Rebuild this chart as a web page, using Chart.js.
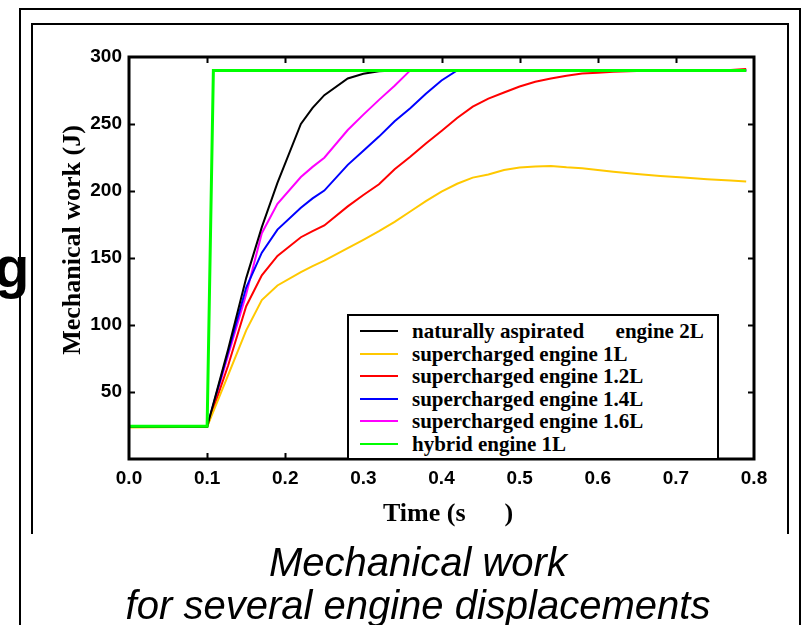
<!DOCTYPE html>
<html>
<head>
<meta charset="utf-8">
<script src="https://cdn.jsdelivr.net/npm/chart.js@4/dist/chart.umd.min.js"></script>
<style>
  body { margin: 0; width: 803px; height: 625px; overflow: hidden; position: relative; background: #fff; font-family: "Liberation Sans", Arial, sans-serif; }
  #chart { position: absolute; left: 0; top: 0; }
  .frame-outer { position: absolute; left: 19px; top: 8px; width: 778px; height: 700px; border: 2px solid #000; }
  .frame-inner { position: absolute; left: 31px; top: 23px; width: 754px; height: 509px; border: 2px solid #000; border-bottom: none; }
  .stray-g { position: absolute; left: -6px; top: 238px; font: bold 58px/58px "Liberation Sans", Arial, sans-serif; color: #000; }
  .y-title { position: absolute; left: -78px; top: 227px; width: 300px; height: 26px; text-align: center; transform: rotate(-90deg);
             font: bold 26px/26px "Liberation Serif", "Times New Roman", serif; white-space: pre; }
  .x-title { position: absolute; left: 383px; top: 500px; font: bold 26px/26px "Liberation Serif", "Times New Roman", serif; white-space: pre; }
  .caption { position: absolute; left: 0; width: 836px; text-align: center; font: italic 40px/40px "Liberation Sans", Arial, sans-serif; white-space: nowrap; }
  #legend { position: absolute; left: 347px; top: 314px; width: 368px; height: 138px; border: 2px solid #000; background: #fff; padding-top: 4px; box-sizing: content-box; }
  #legend .row { height: 22.5px; position: relative; font: bold 21px/22.5px "Liberation Serif", "Times New Roman", serif; white-space: pre; }
  #legend .swatch { position: absolute; left: 11px; top: 10px; width: 38px; height: 2px; }
  #legend .label { position: absolute; left: 63px; top: 0; }
</style>
</head>
<body>
<div class="frame-outer"></div>
<div class="frame-inner"></div>
<div class="stray-g">g</div>
<canvas id="chart" width="803" height="625"></canvas>
<div class="y-title">Mechanical work (J)</div>
<div class="x-title">Time (s      )</div>
<div class="caption" style="top:542px">Mechanical work</div>
<div class="caption" style="top:585px">for several engine displacements</div>
<div id="legend"></div>
<script>
// time (s) shared by the five engine curves
var timeGrid = [0, 0.1, 0.127, 0.15, 0.17, 0.19, 0.22, 0.235, 0.25, 0.28, 0.30, 0.32, 0.34, 0.36, 0.38, 0.40, 0.42,
  0.44, 0.46, 0.48, 0.50, 0.52, 0.54, 0.56, 0.58, 0.60, 0.62, 0.65, 0.68, 0.71, 0.74, 0.77, 0.79];

// mechanical work (J)
var naturallyAspirated2L = [24, 24, 82, 135, 173, 206, 250, 262, 271.5, 284, 287.5, 289.3, 290, 290, 290, 290, 290,
  290, 290, 290, 290, 290, 290, 290, 290, 290, 290, 290, 290, 290, 290, 290, 290];
var supercharged1L = [23.5, 24, 62.7, 96, 118.6, 129.5, 139.5, 144, 148, 157.3, 163.5, 170, 177, 184.7, 192.5, 199.6, 205.4,
  210, 212.3, 215.7, 217.5, 218.3, 218.7, 217.7, 217, 215.6, 214.3, 212.7, 211.2, 210, 208.8, 207.8, 207];
var supercharged12L = [24, 24, 70, 114, 137, 151.5, 165.5, 170, 174.3, 188.5, 197, 205, 216.3, 225.5, 235.5, 244.8, 254.5,
  263, 269, 273.5, 278, 281.5, 284, 286, 287.7, 288.3, 289, 289.6, 290, 290, 290, 290.3, 291];
var supercharged14L = [24, 24, 80, 128, 154, 171.2, 187.5, 194.5, 200.3, 219.5, 230, 240.6, 252, 261.7, 272.5, 282.5, 290,
  290, 290, 290, 290, 290, 290, 290, 290, 290, 290, 290, 290, 290, 290, 290, 290];
var supercharged16L = [24, 24, 77.6, 123, 168.5, 190.4, 210.4, 218, 224.8, 245.5, 257, 268, 278.5, 290, 290, 290, 290,
  290, 290, 290, 290, 290, 290, 290, 290, 290, 290, 290, 290, 290, 290, 290, 290];

// hybrid has its own step
var hybridTime = [0, 0.1, 0.108, 0.79];
var hybrid1L = [24.5, 24.5, 290, 290];

var seriesLabels = ["naturally aspirated      engine 2L", "supercharged engine 1L", "supercharged engine 1.2L",
  "supercharged engine 1.4L", "supercharged engine 1.6L", "hybrid engine 1L"];
var seriesColors = ["#000000", "#ffc800", "#ff0000", "#0000ff", "#ff00ff", "#00ff00"];

var xTicks = [0, 0.1, 0.2, 0.3, 0.4, 0.5, 0.6, 0.7, 0.8];
var yTicks = [50, 100, 150, 200, 250, 300];

function toPoints(xs, ys) {
  return xs.map(function (x, i) {
    return { x: x, y: ys[i] };
  });
}

var seriesData = [
  toPoints(timeGrid, naturallyAspirated2L),
  toPoints(timeGrid, supercharged1L),
  toPoints(timeGrid, supercharged12L),
  toPoints(timeGrid, supercharged14L),
  toPoints(timeGrid, supercharged16L),
  toPoints(hybridTime, hybrid1L)
];

var datasets = seriesData.map(function (d, i) {
  var isHybrid = i === 5;
  return {
    label: seriesLabels[i],
    data: d,
    borderColor: seriesColors[i],
    backgroundColor: seriesColors[i],
    borderWidth: isHybrid ? 3 : 2,
    pointRadius: 0,
    fill: false,
    tension: 0,
    order: isHybrid ? 0 : i + 1
  };
});

// box round the plot with inward tick marks on all sides
var axisBox = {
  id: "axisBox",
  afterDraw: function (chart) {
    var ctx = chart.ctx;
    var a = chart.chartArea;
    var xs = chart.scales.x;
    var ys = chart.scales.y;
    var len = 6;
    ctx.save();
    ctx.strokeStyle = "#000";
    ctx.lineWidth = 2;
    ctx.beginPath();
    xTicks.slice(1, -1).forEach(function (v) {
      var px = Math.round(xs.getPixelForValue(v)) + 0.5;
      ctx.moveTo(px, a.top); ctx.lineTo(px, a.top + len);
      ctx.moveTo(px, a.bottom); ctx.lineTo(px, a.bottom - len);
    });
    yTicks.slice(0, -1).forEach(function (v) {
      var py = Math.round(ys.getPixelForValue(v)) + 0.5;
      ctx.moveTo(a.left, py); ctx.lineTo(a.left + len, py);
      ctx.moveTo(a.right, py); ctx.lineTo(a.right - len, py);
    });
    ctx.stroke();
    ctx.lineWidth = 3;
    ctx.strokeRect(a.left, a.top, a.right - a.left, a.bottom - a.top);
    ctx.restore();
  }
};

var tickFont = { family: "'Liberation Sans', Arial, sans-serif", weight: "bold", size: 19 };

var myChart = new Chart(document.getElementById("chart"), {
  type: "line",
  data: { datasets: datasets },
  options: {
    responsive: false,
    animation: false,
    layout: { padding: { left: 0, top: 57, right: 49, bottom: 126 } },
    plugins: {
      legend: { display: false },
      tooltip: { enabled: false }
    },
    scales: {
      x: {
        type: "linear",
        min: 0,
        max: 0.8,
        grid: { display: false, drawTicks: false },
        border: { display: false },
        afterBuildTicks: function (scale) {
          scale.ticks = xTicks.map(function (v) { return { value: v }; });
        },
        ticks: {
          padding: 8,
          color: "#000",
          font: tickFont,
          maxRotation: 0,
          autoSkip: false,
          callback: function (v) { return Number(v).toFixed(1); }
        },
        afterFit: function (scale) { scale.height = 40; }
      },
      y: {
        min: 0,
        max: 300,
        grid: { display: false, drawTicks: false },
        border: { display: false },
        afterBuildTicks: function (scale) {
          scale.ticks = yTicks.map(function (v) { return { value: v }; });
        },
        ticks: {
          padding: 7,
          color: "#000",
          font: tickFont
        },
        afterFit: function (scale) { scale.width = 129; }
      }
    }
  },
  plugins: [axisBox]
});

// legend box inside the plot, built from the datasets
var legendBox = document.getElementById("legend");
myChart.data.datasets.forEach(function (ds) {
  var row = document.createElement("div");
  row.className = "row";
  var sw = document.createElement("div");
  sw.className = "swatch";
  sw.style.background = ds.borderColor;
  var lab = document.createElement("span");
  lab.className = "label";
  lab.textContent = ds.label;
  row.appendChild(sw);
  row.appendChild(lab);
  legendBox.appendChild(row);
});
</script>
</body>
</html>
